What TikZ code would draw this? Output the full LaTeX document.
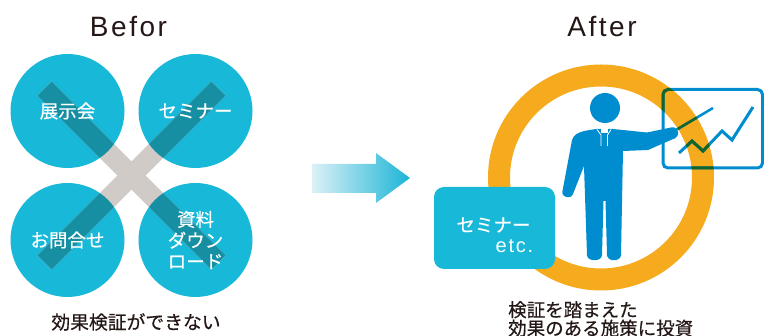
\documentclass[tikz,border=0pt]{standalone}
\usepackage{fontspec}
\setmainfont{Liberation Sans}
\newfontfamily\jp{Noto Sans CJK JP}[FakeBold=0.5]
\newfontfamily\wide{Liberation Sans}[LetterSpace=9]
\definecolor{cyanC}{RGB}{24,184,216}
\definecolor{tealD}{RGB}{22,143,163}
\definecolor{crossG}{RGB}{209,203,200}
\definecolor{ringO}{RGB}{246,171,31}
\definecolor{blueP}{RGB}{0,141,207}
\definecolor{greenD}{RGB}{22,100,38}
\definecolor{arrowL}{RGB}{219,240,247}
\definecolor{arrowR}{RGB}{27,181,214}
\definecolor{ink}{RGB}{35,24,21}
\begin{document}
\begin{tikzpicture}[x=1pt,y=-1pt,
  bubble/.style={circle,fill=cyanC,minimum size=114pt,inner sep=0pt},
  jptext/.style={inner sep=0pt,font=\jp\fontsize{18.5}{21}\selectfont},
  inlabel/.style={jptext,text=white,align=center},
  caption/.style={inner sep=0pt,text=ink,font=\jp\fontsize{18.8}{18.5}\selectfont},
  heading/.style={inner sep=0pt,anchor=base,text=ink,font=\wide\fontsize{28}{30}\selectfont},
  chartline/.style={line width=3pt},
  pointer/.style={line width=2.5pt}]
\useasboundingbox (0,0) rectangle (764,336);

% ---------- left: scattered channels ----------
\node[heading] (hb) at (128.5,37) {Befor};

\node[bubble] (c1) at (67.5,111) {};
\node[bubble] (c2) at (195.5,111) {};
\node[bubble] (c3) at (67.5,240) {};
\node[bubble] (c4) at (195.5,240) {};

% the cross, darker where it lies over a bubble
\coordinate (xc) at (131.5,175.5);
\begin{scope}[shift={(xc)}]
  \fill[crossG,rotate=45] (-123,-10) rectangle (123,10);
  \fill[crossG,rotate=-45] (-123,-10) rectangle (123,10);
\end{scope}
\begin{scope}
  \clip (c1.center) circle (57) (c2.center) circle (57)
        (c3.center) circle (57) (c4.center) circle (57);
  \begin{scope}[shift={(xc)}]
    \fill[tealD,rotate=45] (-123,-10) rectangle (123,10);
    \fill[tealD,rotate=-45] (-123,-10) rectangle (123,10);
  \end{scope}
\end{scope}

\node[inlabel] (l1) at (c1) {展示会};
\node[inlabel] (l2) at (c2) {セミナー};
\node[inlabel] (l3) at (c3) {お問合せ};
\node[inlabel] (l4) at (c4) {資料\\ダウン\\ロード};

\node[caption] (cl) at (136,322) {効果検証ができない};

% ---------- arrow ----------
\shade[left color=arrowL,right color=arrowR]
  (312.5,164) -- (376,164) -- (376,153) -- (410,178) -- (376,203)
  -- (376,193) -- (312.5,193) -- cycle;

% ---------- right: focused investment ----------
\node[heading] (ha) at (602,37) {After};

\coordinate (rc) at (601,177.5);
\draw[ringO,line width=22pt] (rc) circle (102);

% board, chart and pointer
\newcommand\boardparts[1]{%
  \draw[#1,line width=3pt,rounded corners=5pt] (663,89.5) rectangle (762.5,168);
  \draw[#1,chartline] (679,153) -- (692,141) -- (703,151) -- (722,131)
    -- (732,140) -- (753,107);
  \draw[#1,pointer] (676,130) -- (713,108);}
\boardparts{blueP}
\begin{scope}[even odd rule]
  \clip (rc) circle (113) (rc) circle (91);
  \boardparts{greenD}
\end{scope}

% presenter
\fill[blueP] (605,108) circle (15);
\fill[blueP] (596,129) -- (613,129) -- (647,132.5) -- (671,127.5)
  .. controls (680,126) and (681,137.5) .. (672,139.5)
  -- (648,150) -- (623,151)
  -- (621,255) .. controls (621,262) and (607,262) .. (607,255)
  -- (605.5,201) -- (603.5,201)
  -- (602,255) .. controls (602,262) and (587,262) .. (587,255)
  -- (584,166) -- (573,194) .. controls (570.5,200) and (561,197.5) .. (562.5,191)
  -- (572,140) .. controls (574,134) and (578,133) .. (584,131) -- cycle;
\fill[white] (601,127.5) rectangle (607.5,133);
\draw[white,line width=0.8pt] (597,129.5) -- (601,135) -- (601,146);
\draw[white,line width=0.8pt] (611,129.5) -- (607.5,135) -- (607.5,146);

% channel box
\node[fill=cyanC,rounded corners=10pt,minimum width=121pt,minimum height=82pt,
  inner sep=0pt] (bx) at (494.5,228) {};
\node[inlabel] (bl1) at (493.5,225) {セミナー};
\node[inner sep=0pt,anchor=base,text=white,font=\wide\fontsize{20}{22}\selectfont]
  (bl2) at (514.5,253) {etc.};

\node[caption,anchor=west,align=left,font=\jp\fontsize{18.5}{18.5}\selectfont]
  (cr) at (508,319) {検証を踏まえた\\効果のある施策に投資};
\end{tikzpicture}
\end{document}
